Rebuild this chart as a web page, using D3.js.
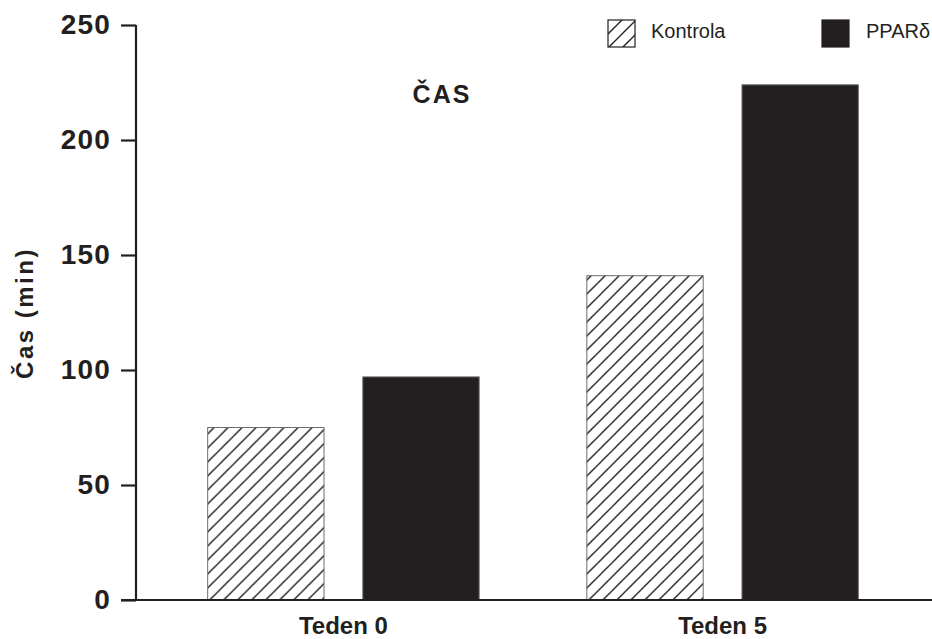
<!DOCTYPE html>
<html>
<head>
<meta charset="utf-8">
<script src="https://cdn.jsdelivr.net/npm/d3@7"></script>
<style>
  html, body { margin: 0; padding: 0; background: #fff; }
  svg { display: block; }
  text { font-family: "Liberation Sans", Arial, Helvetica, sans-serif; fill: #231f20; }
</style>
</head>
<body>
<script>
const categories = ["Teden 0", "Teden 5"];
const series = ["Kontrola", "PPARδ"];
const kontrolaValues = [75, 141];
const ppardValues = [97, 224];
const yTicks = [0, 50, 100, 150, 200, 250];
const chartTitle = "ČAS";
const yTitle = "Čas (min)";

const W = 932, H = 639;
const ink = "#231f20";

const svg = d3.select("body").append("svg").attr("width", W).attr("height", H);

const defs = svg.append("defs");
const pat = defs.append("pattern")
  .attr("id", "hatch")
  .attr("patternUnits", "userSpaceOnUse")
  .attr("width", 14).attr("height", 14);
pat.append("rect").attr("width", 14).attr("height", 14).attr("fill", "#fff");
pat.append("path")
  .attr("d", "M-3.5,3.5 L3.5,-3.5 M0,14 L14,0 M10.5,17.5 L17.5,10.5")
  .attr("stroke", ink).attr("stroke-width", 1.4).attr("fill", "none");

const y = d3.scaleLinear().domain([0, 250]).range([600, 25]);
const x0 = d3.scaleBand().domain(categories).range([100, 966]).paddingInner(0.284).paddingOuter(0.284);
const x1 = d3.scaleBand().domain(series).range([0, x0.bandwidth()]).paddingInner(0.25);

const data = categories.map((c, i) => ({ cat: c, vals: [
  { s: series[0], v: kontrolaValues[i] },
  { s: series[1], v: ppardValues[i] }
]}));

// bars
const g = svg.append("g");
g.selectAll("g.grp").data(data).join("g")
  .attr("class", "grp")
  .attr("transform", d => `translate(${x0(d.cat)},0)`)
  .selectAll("rect").data(d => d.vals).join("rect")
  .attr("x", d => x1(d.s))
  .attr("y", d => y(d.v))
  .attr("width", x1.bandwidth())
  .attr("height", d => y(0) - y(d.v))
  .attr("fill", d => d.s === series[0] ? "url(#hatch)" : ink)
  .attr("stroke", "#6d6d6d")
  .attr("stroke-width", 1);

// y axis
const yAxis = d3.axisLeft(y).tickValues(yTicks).tickSize(15).tickPadding(10).tickFormat(d3.format("d"));
const ya = svg.append("g").attr("transform", "translate(136,0)").call(yAxis);
ya.select(".domain").remove();
ya.selectAll(".tick line").attr("stroke", ink).attr("stroke-width", 2.2);
ya.selectAll(".tick text")
  .attr("font-size", 28).attr("font-weight", "bold")
  .attr("letter-spacing", 1.2)
  .attr("font-family", "Liberation Sans, Arial, sans-serif")
  .attr("fill", ink);
svg.append("line").attr("x1", 136).attr("x2", 136).attr("y1", y(250)).attr("y2", y(0))
  .attr("stroke", ink).attr("stroke-width", 2.2);

// x axis
const xAxis = d3.axisBottom(x0).tickSize(0).tickPadding(17);
const xa = svg.append("g").attr("transform", `translate(0,${y(0)})`).call(xAxis);
xa.select(".domain").remove();
xa.selectAll(".tick text")
  .attr("font-size", 24).attr("font-weight", "bold")
  .attr("font-family", "Liberation Sans, Arial, sans-serif")
  .attr("fill", ink);
svg.append("line").attr("x1", 121).attr("x2", W).attr("y1", y(0)).attr("y2", y(0))
  .attr("stroke", ink).attr("stroke-width", 2.2);

// title
svg.append("text").attr("x", 442).attr("y", 103).attr("text-anchor", "middle")
  .attr("font-size", 25).attr("font-weight", "bold").attr("letter-spacing", 2)
  .text(chartTitle);

// y title
svg.append("text").attr("transform", "translate(33,313) rotate(-90)")
  .attr("text-anchor", "middle")
  .attr("font-size", 24).attr("font-weight", "bold").attr("letter-spacing", 2.5)
  .text(yTitle);

// legend
const legend = [
  { s: series[0], x: 608, fill: "url(#hatch)" },
  { s: series[1], x: 822, fill: ink }
];
const lg = svg.append("g").selectAll("g").data(legend).join("g")
  .attr("transform", d => `translate(${d.x},20)`);
lg.append("rect").attr("width", 27).attr("height", 27)
  .attr("fill", d => d.fill).attr("stroke", ink).attr("stroke-width", 1.2);
lg.append("text").attr("x", d => d.s === series[0] ? 43 : 44).attr("y", 18)
  .attr("font-size", 20).text(d => d.s);
</script>
</body>
</html>
